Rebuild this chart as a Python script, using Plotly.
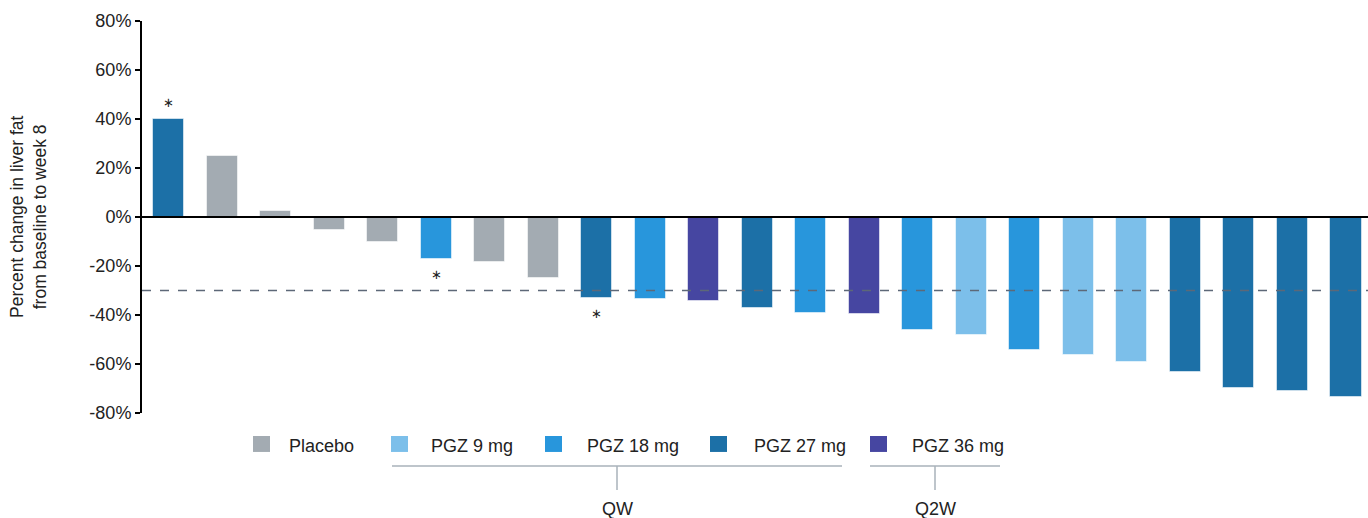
import plotly.graph_objects as go

# ---- data ----
values = [40, 25, 2.4, -5.2, -10, -17.3, -18.2, -24.8, -32.9, -33.4, -34.3, -37.1,
          -39.1, -39.5, -46.2, -48.0, -54.2, -56.2, -59.3, -63.3, -69.7, -70.9, -73.4]
groups = ["PGZ 27 mg", "Placebo", "Placebo", "Placebo", "Placebo", "PGZ 18 mg", "Placebo",
          "Placebo", "PGZ 27 mg", "PGZ 18 mg", "PGZ 36 mg", "PGZ 27 mg", "PGZ 18 mg",
          "PGZ 36 mg", "PGZ 18 mg", "PGZ 9 mg", "PGZ 18 mg", "PGZ 9 mg", "PGZ 9 mg",
          "PGZ 27 mg", "PGZ 27 mg", "PGZ 27 mg", "PGZ 27 mg"]
legend_labels = ["Placebo", "PGZ 9 mg", "PGZ 18 mg", "PGZ 27 mg", "PGZ 36 mg"]
colors = {"Placebo": "#a3abb2", "PGZ 9 mg": "#7cbfea", "PGZ 18 mg": "#2896dc",
          "PGZ 27 mg": "#1c70a7", "PGZ 36 mg": "#4646a1"}
star_bars = [0, 5, 8]
star_y = [46.8, -23.6, -39.5]
threshold = -30
y_ticks = [80, 60, 40, 20, 0, -20, -40, -60, -80]
schedule_labels = ["QW", "Q2W"]

# ---- layout geometry (pixels) ----
W, H = 1368, 518
L, R, T, B = 142, 1368, 20.5, 413
FONT = "Liberation Sans, Arial, Helvetica, sans-serif"

def px(x):
    return (x - L) / (R - L)

def py(y):
    return (B - y) / (B - T)

xs = list(range(len(values)))
fig = go.Figure()
fig.add_trace(go.Bar(
    x=xs, y=values, width=0.58,
    marker=dict(color=[colors[g] for g in groups],
                line=dict(color="rgba(255,255,255,0.55)", width=1)),
    showlegend=False, hoverinfo="skip"))

shapes = []
# threshold dashed line and zero line
shapes.append(dict(type="line", xref="paper", yref="y", x0=0, x1=1, y0=threshold, y1=threshold,
                   line=dict(color="#5d6878", width=1.3, dash="dash")))
shapes.append(dict(type="line", xref="paper", yref="y", x0=0, x1=1, y0=0, y1=0,
                   line=dict(color="black", width=2)))

annotations = []
for b, sy in zip(star_bars, star_y):
    annotations.append(dict(x=b, y=sy, xref="x", yref="y", text="∗", showarrow=False,
                            font=dict(size=13, color="#222", family=FONT)))

# y axis title
annotations.append(dict(x=px(28), y=0.5, xref="paper", yref="paper",
                        text="Percent change in liver fat<br>from baseline to week 8",
                        textangle=-90, showarrow=False, xanchor="center", yanchor="middle",
                        font=dict(size=17.5, color="#222", family=FONT)))

# legend (squares + labels)
sq_x = [253, 391, 545, 710, 870]
tx_x = [287, 429, 585, 752, 910]
for lab, sx, tx in zip(legend_labels, sq_x, tx_x):
    shapes.append(dict(type="rect", xref="paper", yref="paper",
                       x0=px(sx), x1=px(sx + 17), y0=py(452), y1=py(436),
                       fillcolor=colors[lab], line=dict(width=0)))
    annotations.append(dict(x=px(tx), y=py(446), xref="paper", yref="paper", text=lab,
                            showarrow=False, xanchor="left", yanchor="middle",
                            font=dict(size=18, color="#222", family=FONT)))

# schedule brackets
brackets = [(392, 842, 617), (870, 1000, 935)]
for (x0, x1, xc), lab in zip(brackets, schedule_labels):
    shapes.append(dict(type="line", xref="paper", yref="paper", x0=px(x0), x1=px(x1),
                       y0=py(466), y1=py(466), line=dict(color="#a9b2ba", width=1.5)))
    shapes.append(dict(type="line", xref="paper", yref="paper", x0=px(xc), x1=px(xc),
                       y0=py(466), y1=py(490), line=dict(color="#a9b2ba", width=1.5)))
    annotations.append(dict(x=px(xc), y=py(509), xref="paper", yref="paper", text=lab,
                            showarrow=False, xanchor="center", yanchor="middle",
                            font=dict(size=18, color="#222", family=FONT)))

x0_data = -(168.5 - L) / 53.5
x1_data = 22 + (R - 1346) / 53.5
fig.update_layout(
    width=W, height=H, margin=dict(l=L, r=W - R, t=T, b=H - B),
    paper_bgcolor="white", plot_bgcolor="white",
    xaxis=dict(range=[x0_data, x1_data], visible=False, fixedrange=True),
    yaxis=dict(range=[-80, 80], tickvals=y_ticks, ticktext=[f"{v}%" for v in y_ticks],
               showgrid=False, zeroline=False, showline=True, linecolor="black", linewidth=2,
               ticks="outside", ticklen=5, tickwidth=2, tickcolor="black",
               tickfont=dict(size=18, color="#222", family=FONT)),
    bargap=0,
)
fig.layout.shapes = shapes
fig.layout.annotations = annotations
fig.write_html("out.html")
